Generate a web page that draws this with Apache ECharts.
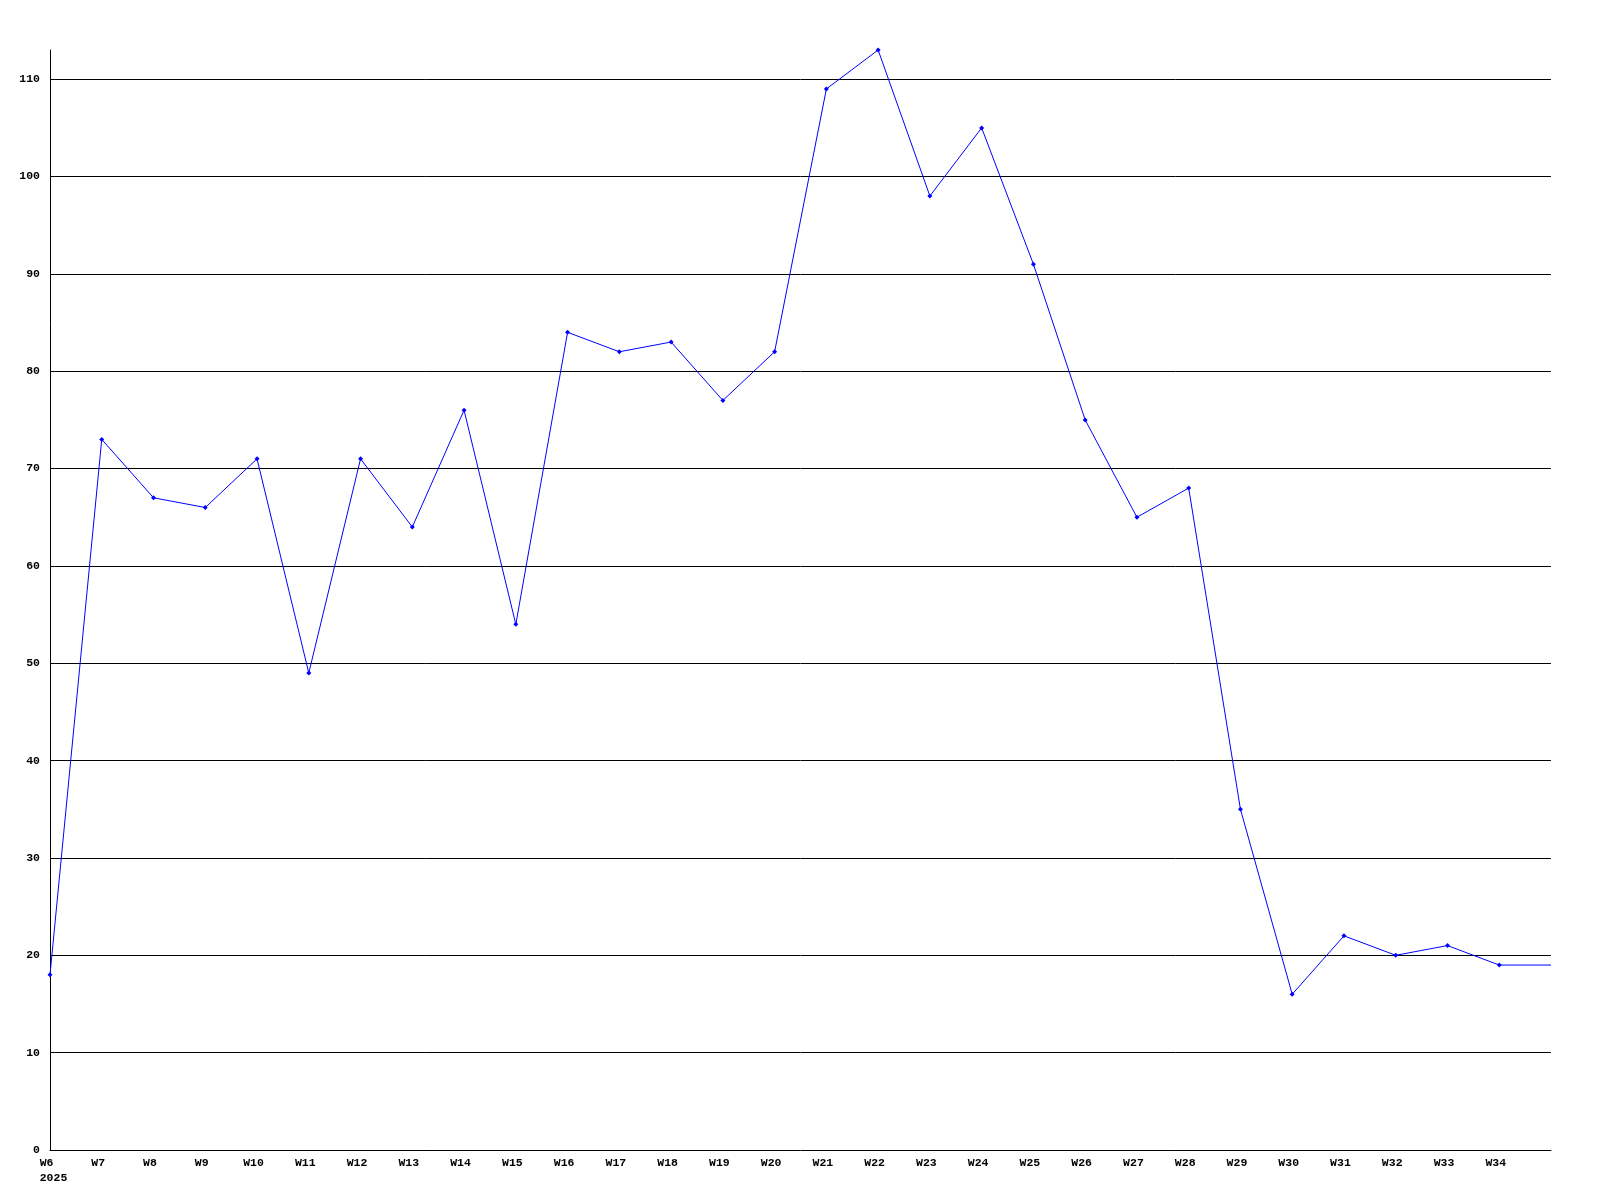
<!DOCTYPE html>
<html>
<head>
<meta charset="utf-8">
<script src="https://cdn.jsdelivr.net/npm/echarts@6/dist/echarts.min.js"></script>
<style>html,body{margin:0;padding:0;background:#fff}#c{width:1600px;height:1200px}</style>
</head>
<body>
<div id="c"></div>
<script>
const weeks = ["W6","W7","W8","W9","W10","W11","W12","W13","W14","W15","W16","W17","W18","W19","W20","W21","W22","W23","W24","W25","W26","W27","W28","W29","W30","W31","W32","W33","W34","W35"];
const values = [18,73,67,66,71,49,71,64,76,54,84,82,83,77,82,109,113,98,105,91,75,65,68,35,16,22,20,21,19,19];
const yearLabel = "2025";
const yMin = 0, yMax = 113, yStep = 10;

const font = {fontFamily: '"Liberation Mono", "DejaVu Sans Mono", monospace', fontWeight: 'bold', fontSize: 11.5, color: '#000'};
const seriesData = values.map(function (v, i) {
  return i === values.length - 1 ? {value: v, symbol: 'none'} : v;
});
const chart = echarts.init(document.getElementById('c'), null, {renderer: 'canvas'});
chart.setOption({
  animation: false,
  backgroundColor: '#fff',
  grid: {left: 50, right: 49, top: 50, bottom: 50, containLabel: false},
  xAxis: {
    type: 'category',
    data: weeks,
    boundaryGap: false,
    axisLine: {show: true, lineStyle: {color: '#000', width: 1}},
    axisTick: {show: false},
    splitLine: {show: false},
    axisLabel: Object.assign({}, font, {
      margin: 6,
      lineHeight: 15,
      interval: 0,
      padding: [0, 7, 0, 0],
      rich: {
        f: Object.assign({}, font, {lineHeight: 15, padding: [0, 0, 0, 14]})
      },
      formatter: function (v, i) {
        if (i === weeks.length - 1) return '';
        if (i === 0) {
          let w = v;
          while (w.length < yearLabel.length) w += ' ';
          return '{f|' + w + '}\n{f|' + yearLabel + '}';
        }
        return v;
      }
    })
  },
  yAxis: {
    type: 'value',
    min: yMin, max: yMax, interval: yStep,
    axisLine: {show: true, lineStyle: {color: '#000', width: 1}},
    axisTick: {show: false},
    splitLine: {show: true, showMinLine: false, showMaxLine: false, lineStyle: {color: '#000', width: 1}},
    axisLabel: Object.assign({}, font, {margin: 10, showMaxLabel: false})
  },
  series: [{
    type: 'line',
    data: seriesData,
    symbol: 'diamond',
    symbolSize: 5,
    showAllSymbol: true,
    lineStyle: {color: '#0000ff', width: 1},
    itemStyle: {color: '#0000ff'},
    z: 5
  }]
});
</script>
</body>
</html>
